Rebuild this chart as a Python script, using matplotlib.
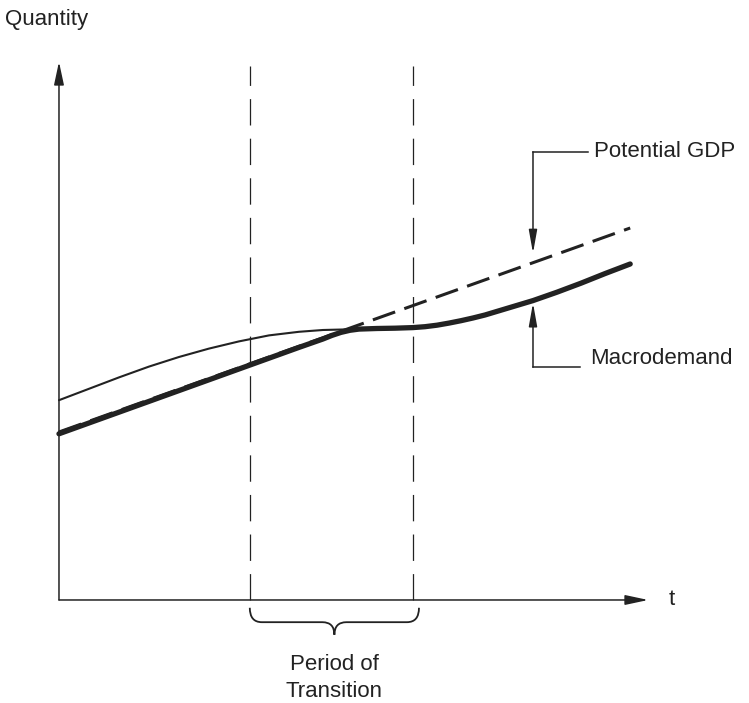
import matplotlib
matplotlib.use('Agg')
import matplotlib.pyplot as plt
from matplotlib.path import Path
from matplotlib.patches import PathPatch

plt.rcParams['font.family'] = ['Liberation Sans', 'DejaVu Sans']
plt.rcParams['lines.scale_dashes'] = False

# schematic data (t in arbitrary units, quantity in arbitrary units)
potential_t = [0.0, 9.52]
potential_q = [2.80, 6.20]

macro_t = [0.0, 1.0, 2.0, 3.0, 4.0, 4.2, 4.4, 4.55, 4.7, 4.85, 5.0, 5.3, 5.6, 5.9,
           6.1, 6.3, 6.5, 6.7, 6.9, 7.1, 7.5, 7.9, 8.3, 8.7, 9.1, 9.52]
macro_q = [2.77, 3.13, 3.49, 3.85, 4.21, 4.28, 4.35, 4.41, 4.46, 4.495, 4.515, 4.525, 4.53, 4.54,
           4.555, 4.58, 4.615, 4.655, 4.70, 4.75, 4.87, 4.99, 5.13, 5.28, 5.44, 5.60]

old_t = [0.0, 0.5, 1.0, 1.5, 2.0, 2.5, 3.0, 3.5, 4.0, 4.4, 4.8]
old_q = [3.33, 3.52, 3.71, 3.89, 4.05, 4.19, 4.31, 4.41, 4.47, 4.50, 4.51]

transition = [3.18, 5.90]
t_max = 9.82
q_max = 8.97
marker_t = 7.9

ink = '#222222'

fig = plt.figure(figsize=(7.49, 7.03), dpi=100)
ax = fig.add_axes([0, 0, 1, 1])
ax.set_xlim(-0.983, 11.5)
ax.set_ylim(-1.717, 10.0)
ax.axis('off')

arrow = dict(arrowstyle='-|>,head_length=1.4,head_width=0.3', color=ink,
             lw=1.1, shrinkA=0, shrinkB=0)
ax.annotate('', xy=(t_max, 0), xytext=(0, 0), arrowprops=arrow)
ax.annotate('', xy=(0, q_max), xytext=(0, 0), arrowprops=arrow)

for tx in transition:
    ax.plot([tx, tx], [0, 8.9], color=ink, lw=0.9, dashes=(19, 9.5))

ax.plot(old_t, old_q, color=ink, lw=1.5, solid_capstyle='round')
ax.plot(macro_t, macro_q, color=ink, lw=3.8, solid_capstyle='round', solid_joinstyle='round')
ax.plot(potential_t, potential_q, color=ink, lw=2.2, dashes=(17, 7))

# leaders
small_arrow = dict(arrowstyle='-|>,head_length=1.4,head_width=0.25', color=ink,
                   lw=1.1, shrinkA=0, shrinkB=0)
ax.plot([marker_t, 8.82], [7.47, 7.47], color=ink, lw=1.1)
ax.annotate('', xy=(marker_t, 5.78), xytext=(marker_t, 7.47), arrowprops=small_arrow)
ax.text(8.92, 7.47, 'Potential GDP', fontsize=16, va='center', ha='left', color=ink)

ax.plot([marker_t, 8.68], [3.88, 3.88], color=ink, lw=1.1)
ax.annotate('', xy=(marker_t, 4.95), xytext=(marker_t, 3.88), arrowprops=small_arrow)
ax.text(8.85, 4.03, 'Macrodemand', fontsize=16, va='center', ha='left', color=ink)

# brace under the transition period
t0, t1 = transition[0], transition[1] + 0.1
mid = (t0 + t1) / 2
ytop, yflat, ytip = -0.13, -0.37, -0.58
verts = [(t0, ytop), (t0, yflat), (t0 + 0.2, yflat),
         (mid - 0.2, yflat), (mid, yflat), (mid, ytip),
         (mid, yflat), (mid + 0.2, yflat),
         (t1 - 0.2, yflat), (t1, yflat), (t1, ytop)]
codes = [Path.MOVETO, Path.CURVE3, Path.CURVE3,
         Path.LINETO, Path.CURVE3, Path.CURVE3,
         Path.CURVE3, Path.CURVE3,
         Path.LINETO, Path.CURVE3, Path.CURVE3]
ax.add_patch(PathPatch(Path(verts, codes), fill=False, lw=1.3, edgecolor=ink))

ax.text(mid, -1.08, 'Period of', fontsize=16, ha='center', va='center', color=ink)
ax.text(mid, -1.53, 'Transition', fontsize=16, ha='center', va='center', color=ink)

ax.text(-0.9, 9.67, 'Quantity', fontsize=16, ha='left', va='center', color=ink)
ax.text(10.22, 0.0, 't', fontsize=16, ha='center', va='center', color=ink)

fig.savefig('out.png', dpi=100)
